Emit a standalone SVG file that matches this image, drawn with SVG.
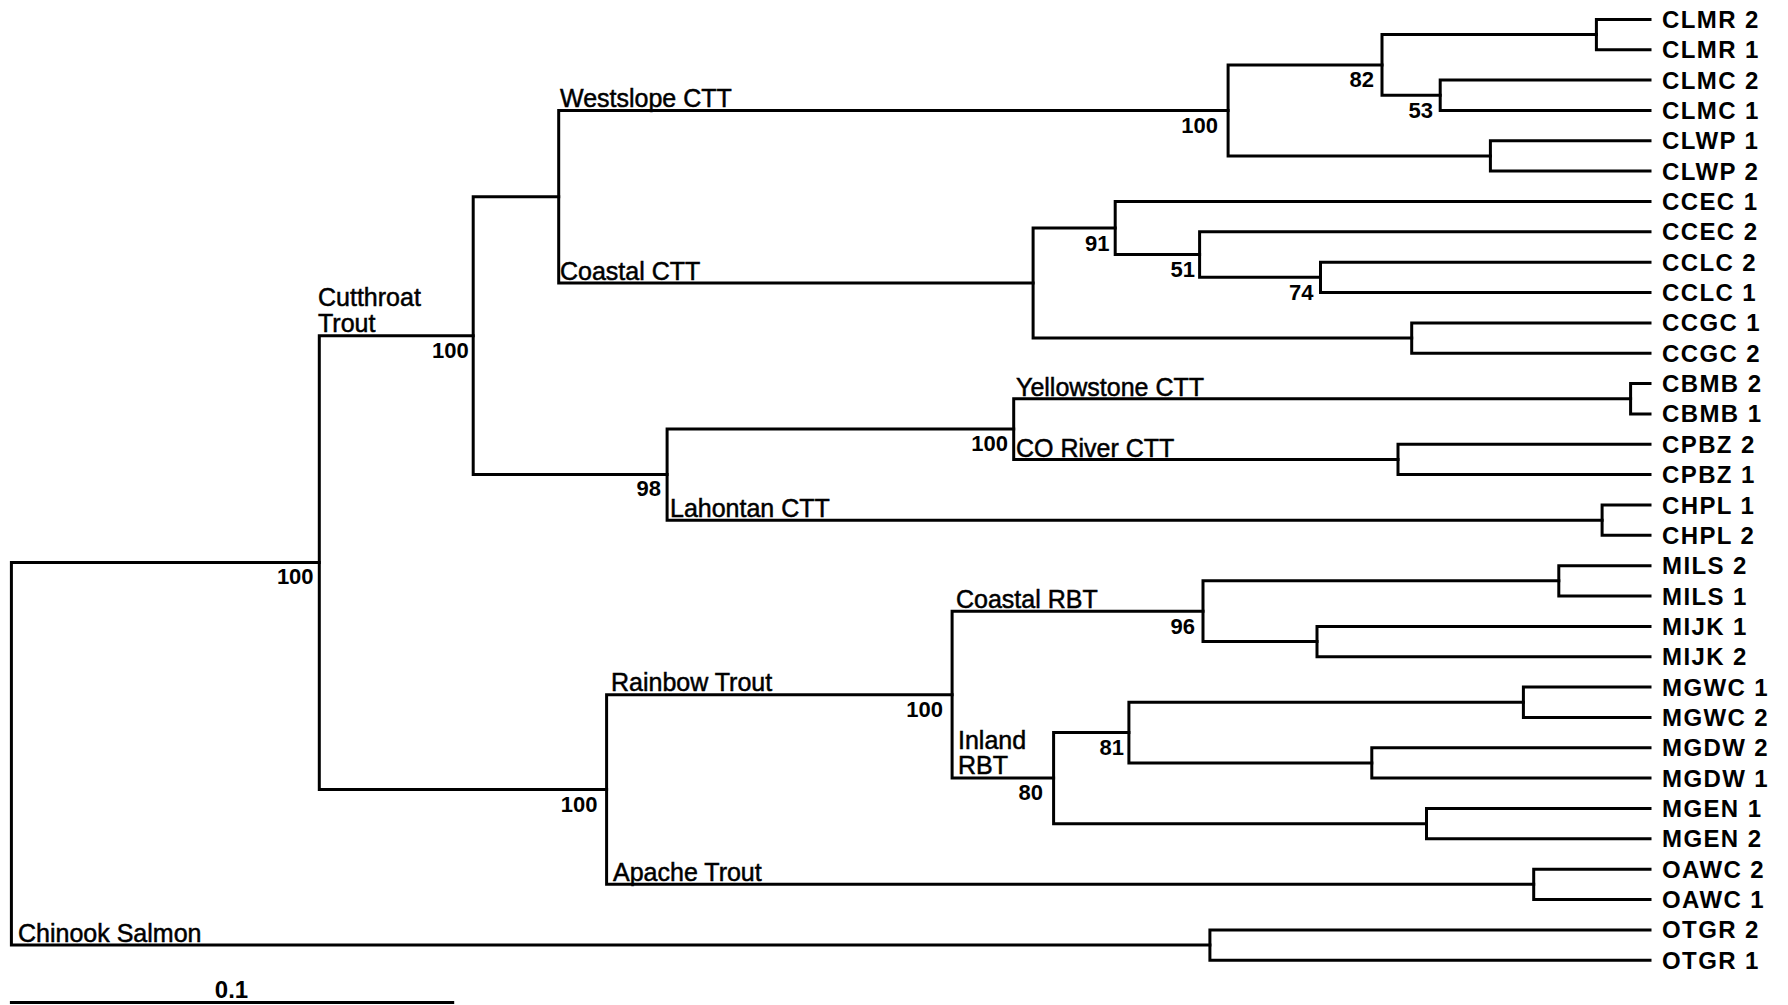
<svg xmlns="http://www.w3.org/2000/svg" width="1788" height="1005" viewBox="0 0 1788 1005">
<style>
.br{fill:none;stroke:#000;stroke-width:3;stroke-linecap:square}
.leaf{font-family:"Liberation Sans",Arial,sans-serif;font-weight:bold;font-size:24px;letter-spacing:1.4px;fill:#000}
.bs{font-family:"Liberation Sans",Arial,sans-serif;font-weight:bold;font-size:22px;fill:#000;text-anchor:end}
.cl{font-family:"Liberation Sans",Arial,sans-serif;font-size:25px;fill:#000;stroke:#000;stroke-width:0.5}
</style>
<rect width="1788" height="1005" fill="#fff"/>
<g id="connectors" class="br">
<path d="M319.3 562.6 H11.4 V945.05 H1209.9"/>
<path d="M473.2 335.65 H319.3 V789.5 H606.6"/>
<path d="M558.7 196.7 H473.2 V474.6 H667.1"/>
<path d="M1228.1 110.4 H558.7 V283.05 H1033.1"/>
<path d="M1382 64.9 H1228.1 V155.95 H1490.4"/>
<path d="M1596.4 34.55 H1382 V95.25 H1440.2"/>
<path d="M1650 19.4 H1596.4 V49.7 H1650"/>
<path d="M1650 80.1 H1440.2 V110.4 H1650"/>
<path d="M1650 140.8 H1490.4 V171.1 H1650"/>
<path d="M1115.2 228.05 H1033.1 V338.05 H1411.7"/>
<path d="M1650 201.5 H1115.2 V254.6 H1199.6"/>
<path d="M1650 231.8 H1199.6 V277.35 H1320.5"/>
<path d="M1650 262.2 H1320.5 V292.5 H1650"/>
<path d="M1650 322.9 H1411.7 V353.2 H1650"/>
<path d="M1013.7 429.1 H667.1 V520.15 H1602.1"/>
<path d="M1630.6 398.75 H1013.7 V459.45 H1398"/>
<path d="M1650 383.6 H1630.6 V413.9 H1650"/>
<path d="M1650 444.3 H1398 V474.6 H1650"/>
<path d="M1650 505 H1602.1 V535.3 H1650"/>
<path d="M952.1 694.65 H606.6 V884.35 H1533.7"/>
<path d="M1203 611.2 H952.1 V778.1 H1053.6"/>
<path d="M1558.8 580.85 H1203 V641.55 H1317"/>
<path d="M1650 565.7 H1558.8 V596 H1650"/>
<path d="M1650 626.4 H1317 V656.7 H1650"/>
<path d="M1128.9 732.6 H1053.6 V823.65 H1426.5"/>
<path d="M1523.4 702.25 H1128.9 V762.95 H1371.8"/>
<path d="M1650 687.1 H1523.4 V717.4 H1650"/>
<path d="M1650 747.8 H1371.8 V778.1 H1650"/>
<path d="M1650 808.5 H1426.5 V838.8 H1650"/>
<path d="M1650 869.2 H1533.7 V899.5 H1650"/>
<path d="M1650 929.9 H1209.9 V960.2 H1650"/>
<path d="M11.4 1002.5 H452.7"/>
</g>
<g id="leaves" class="leaf">
<g id="CLMR2"><text x="1662" y="27.9">CLMR 2</text></g>
<g id="CLMR1"><text x="1662" y="58.2">CLMR 1</text></g>
<g id="CLMC2"><text x="1662" y="88.6">CLMC 2</text></g>
<g id="CLMC1"><text x="1662" y="118.9">CLMC 1</text></g>
<g id="CLWP1"><text x="1662" y="149.3">CLWP 1</text></g>
<g id="CLWP2"><text x="1662" y="179.6">CLWP 2</text></g>
<g id="CCEC1"><text x="1662" y="210">CCEC 1</text></g>
<g id="CCEC2"><text x="1662" y="240.3">CCEC 2</text></g>
<g id="CCLC2"><text x="1662" y="270.7">CCLC 2</text></g>
<g id="CCLC1"><text x="1662" y="301">CCLC 1</text></g>
<g id="CCGC1"><text x="1662" y="331.4">CCGC 1</text></g>
<g id="CCGC2"><text x="1662" y="361.7">CCGC 2</text></g>
<g id="CBMB2"><text x="1662" y="392.1">CBMB 2</text></g>
<g id="CBMB1"><text x="1662" y="422.4">CBMB 1</text></g>
<g id="CPBZ2"><text x="1662" y="452.8">CPBZ 2</text></g>
<g id="CPBZ1"><text x="1662" y="483.1">CPBZ 1</text></g>
<g id="CHPL1"><text x="1662" y="513.5">CHPL 1</text></g>
<g id="CHPL2"><text x="1662" y="543.8">CHPL 2</text></g>
<g id="MILS2"><text x="1662" y="574.2">MILS 2</text></g>
<g id="MILS1"><text x="1662" y="604.5">MILS 1</text></g>
<g id="MIJK1"><text x="1662" y="634.9">MIJK 1</text></g>
<g id="MIJK2"><text x="1662" y="665.2">MIJK 2</text></g>
<g id="MGWC1"><text x="1662" y="695.6">MGWC 1</text></g>
<g id="MGWC2"><text x="1662" y="725.9">MGWC 2</text></g>
<g id="MGDW2"><text x="1662" y="756.3">MGDW 2</text></g>
<g id="MGDW1"><text x="1662" y="786.6">MGDW 1</text></g>
<g id="MGEN1"><text x="1662" y="817">MGEN 1</text></g>
<g id="MGEN2"><text x="1662" y="847.3">MGEN 2</text></g>
<g id="OAWC2"><text x="1662" y="877.7">OAWC 2</text></g>
<g id="OAWC1"><text x="1662" y="908">OAWC 1</text></g>
<g id="OTGR2"><text x="1662" y="938.4">OTGR 2</text></g>
<g id="OTGR1"><text x="1662" y="968.7">OTGR 1</text></g>
</g>
<g id="clades" class="cl">
<g id="westslope"><text x="560" y="107">Westslope CTT</text></g>
<g id="coastalctt"><text x="560" y="280">Coastal CTT</text></g>
<g id="cutthroat"><text x="318" y="306">Cutthroat</text><text x="318" y="332">Trout</text></g>
<g id="yellowstone"><text x="1016" y="396">Yellowstone CTT</text></g>
<g id="coriver"><text x="1016" y="457">CO River CTT</text></g>
<g id="lahontan"><text x="670" y="517">Lahontan CTT</text></g>
<g id="rainbow"><text x="611" y="691">Rainbow Trout</text></g>
<g id="apache"><text x="613" y="881">Apache Trout</text></g>
<g id="coastalrbt"><text x="956" y="608">Coastal RBT</text></g>
<g id="inland"><text x="958" y="749">Inland</text><text x="958" y="774">RBT</text></g>
<g id="chinook"><text x="18" y="942">Chinook Salmon</text></g>
</g>
<g id="bootstrap" class="bs">
<text x="313.6" y="584">100</text>
<text x="468.7" y="358">100</text>
<text x="1218" y="133">100</text>
<text x="1374" y="87">82</text>
<text x="1433" y="118">53</text>
<text x="1109.5" y="251">91</text>
<text x="1195" y="277">51</text>
<text x="1313.6" y="300">74</text>
<text x="1008" y="451">100</text>
<text x="661" y="496">98</text>
<text x="597.5" y="812">100</text>
<text x="943" y="717">100</text>
<text x="1195" y="634">96</text>
<text x="1043" y="800">80</text>
<text x="1124" y="755">81</text>
</g>
<g id="scale"><text x="231.5" y="998" class="bs" style="text-anchor:middle;font-size:24px">0.1</text></g>
</svg>
